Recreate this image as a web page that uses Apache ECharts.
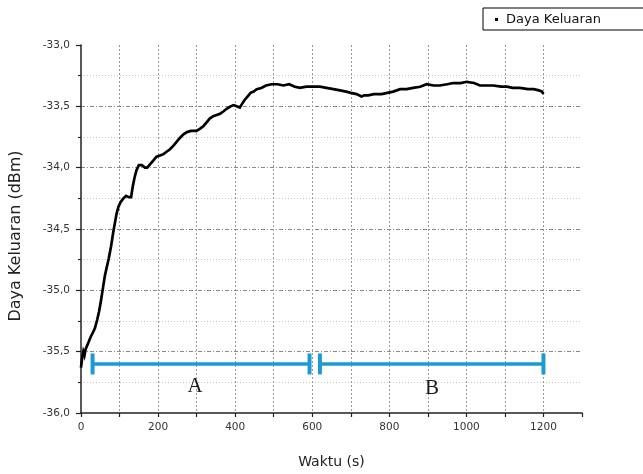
<!DOCTYPE html>
<html>
<head>
<meta charset="utf-8">
<script src="https://cdn.jsdelivr.net/npm/echarts@6/dist/echarts.min.js"></script>
<style>
  html, body { margin: 0; padding: 0; background: #fff; }
  #chart { width: 643px; height: 474px; }
</style>
</head>
<body>
<div id="chart"></div>
<script>
// Output power measured over time (s -> dBm)
const timeSec = [
  0, 3, 6, 9, 12, 16, 20, 25, 30, 36, 42, 47, 52, 57, 62, 67, 72, 78, 84, 88,
  92, 97, 103, 110, 117, 124, 130, 134, 139, 144, 150, 158, 166, 172, 180, 188, 196, 205, 214, 222,
  231, 240, 248, 256, 265, 275, 285, 300, 310, 318, 326, 334, 343, 352, 361, 370, 378, 388, 396, 404,
  412, 418, 424, 432, 440, 448, 456, 468, 480, 495, 510, 525, 540, 555, 568, 585, 603, 620, 637, 655,
  672, 688, 700, 715, 728, 735, 745, 760, 780, 795, 810, 828, 845, 862, 880, 897, 915, 931, 950, 966,
  985, 1001, 1020, 1035, 1055, 1070, 1090, 1105, 1120, 1139, 1160, 1175, 1188, 1196, 1200
];
const powerDbm = [
  -35.63, -35.55, -35.50, -35.53, -35.48, -35.47, -35.42, -35.38, -35.35, -35.31, -35.24, -35.17, -35.08, -34.98, -34.88, -34.81, -34.74, -34.64, -34.52, -34.45,
  -34.38, -34.32, -34.28, -34.25, -34.23, -34.24, -34.24, -34.16, -34.08, -34.02, -33.98, -33.98, -34.00, -34.00, -33.97, -33.94, -33.91, -33.90, -33.89, -33.87,
  -33.85, -33.82, -33.79, -33.76, -33.73, -33.71, -33.70, -33.70, -33.68, -33.66, -33.63, -33.60, -33.58, -33.57, -33.56, -33.54, -33.52, -33.50, -33.49, -33.50,
  -33.51, -33.48, -33.45, -33.42, -33.39, -33.38, -33.36, -33.35, -33.33, -33.32, -33.32, -33.33, -33.32, -33.34, -33.35, -33.34, -33.34, -33.34, -33.35, -33.36,
  -33.37, -33.38, -33.39, -33.40, -33.42, -33.41, -33.41, -33.40, -33.40, -33.39, -33.38, -33.36, -33.36, -33.35, -33.34, -33.32, -33.33, -33.33, -33.32, -33.31,
  -33.31, -33.30, -33.31, -33.33, -33.33, -33.33, -33.34, -33.34, -33.35, -33.35, -33.36, -33.36, -33.37, -33.38, -33.40
];

// Measurement phases A and B shown as bracketed intervals
const phaseNames = ['A', 'B'];
const phaseStart = [30, 620];
const phaseEnd = [593, 1200];
const phaseLevel = -35.6;
const phaseLabelTime = [296, 911];
const phaseLabelPower = [-35.78, -35.80];

const seriesName = 'Daya Keluaran';
const xAxisTitle = 'Waktu (s)';
const yAxisTitle = 'Daya Keluaran (dBm)';

const BLUE = '#1d9ad6';
const AXIS = '#222';
const FONT = 'DejaVu Sans';

const powerData = timeSec.map((t, i) => [t, powerDbm[i]]);
const phaseData = phaseStart.map((s, i) => [s, phaseEnd[i], phaseLevel, phaseLabelTime[i], phaseLabelPower[i]]);

const chart = echarts.init(document.getElementById('chart'), null, { renderer: 'canvas' });

chart.setOption({
  animation: false,
  backgroundColor: '#fff',
  grid: { left: 81, top: 45, width: 501, height: 372, containLabel: false },
  legend: {
    left: 483, top: 8,
    data: [{ name: seriesName, icon: 'rect' }],
    itemWidth: 3, itemHeight: 3,
    padding: [5, 60, 4, 12],
    borderColor: '#000', borderWidth: 1, borderRadius: 0,
    textStyle: { fontFamily: FONT, fontSize: 13, color: '#111', padding: [0, 0, 0, 3] }
  },
  xAxis: {
    type: 'value', min: 0, max: 1300, interval: 100,
    name: xAxisTitle, nameLocation: 'middle', nameGap: 42,
    nameTextStyle: { fontFamily: FONT, fontSize: 14, color: '#222' },
    axisLine: { show: true, onZero: false, lineStyle: { color: AXIS, width: 1.5 } },
    axisTick: { show: true, length: 4, lineStyle: { color: AXIS, width: 1.2 } },
    axisLabel: {
      margin: 9, fontFamily: FONT, fontSize: 10.5, color: '#333',
      formatter: v => (v % 200 === 0 && v <= 1200) ? String(v) : ''
    },
    splitLine: { show: true, showMinLine: false, showMaxLine: false,
      lineStyle: { color: '#9a9a9a', width: 1, type: [2, 2] } }
  },
  yAxis: {
    type: 'value', min: -36, max: -33, interval: 0.5,
    name: yAxisTitle, nameLocation: 'middle', nameGap: 57,
    nameTextStyle: { fontFamily: FONT, fontSize: 16, color: '#222', padding: [0, 14, 0, 0] },
    axisLine: { show: true, onZero: false, lineStyle: { color: AXIS, width: 1.5 } },
    axisTick: { show: true, length: 5, lineStyle: { color: AXIS, width: 1.2 } },
    minorTick: { show: true, splitNumber: 2, length: 3, lineStyle: { color: AXIS, width: 1 } },
    axisLabel: {
      margin: 11, fontFamily: FONT, fontSize: 10.5, color: '#333',
      formatter: v => v.toFixed(1).replace('.', ',')
    },
    splitLine: { show: true, showMinLine: false, showMaxLine: false,
      lineStyle: { color: '#8a8a8a', width: 1, type: [4, 2, 1, 2] } },
    minorSplitLine: { show: true, lineStyle: { color: '#c4c4c4', width: 1, type: [1, 2] } }
  },
  series: [
    {
      name: seriesName,
      type: 'line',
      data: powerData,
      showSymbol: false,
      symbol: 'none',
      lineStyle: { color: '#000', width: 2.7, join: 'miter' },
      itemStyle: { color: '#000' },
      z: 3
    },
    {
      name: 'phases',
      type: 'custom',
      data: phaseData,
      encode: { x: [0, 1, 3], y: [2, 4] },
      z: 4,
      renderItem: function (params, api) {
        const p0 = api.coord([api.value(0), api.value(2)]);
        const p1 = api.coord([api.value(1), api.value(2)]);
        const lp = api.coord([api.value(3), api.value(4)]);
        const st = { stroke: BLUE, lineWidth: 3.5, lineCap: 'butt' };
        return {
          type: 'group',
          children: [
            { type: 'line', shape: { x1: p0[0], y1: p0[1], x2: p1[0], y2: p1[1] }, style: st },
            { type: 'line', shape: { x1: p0[0], y1: p0[1] - 10.5, x2: p0[0], y2: p0[1] + 10.5 }, style: { stroke: BLUE, lineWidth: 4 } },
            { type: 'line', shape: { x1: p1[0], y1: p1[1] - 10.5, x2: p1[0], y2: p1[1] + 10.5 }, style: { stroke: BLUE, lineWidth: 4 } },
            { type: 'text', x: lp[0], y: lp[1],
              style: { text: phaseNames[params.dataIndex], fill: '#1a1a1a',
                font: '21px "Liberation Serif"', align: 'center', verticalAlign: 'middle' } }
          ]
        };
      }
    }
  ]
});
</script>
</body>
</html>
